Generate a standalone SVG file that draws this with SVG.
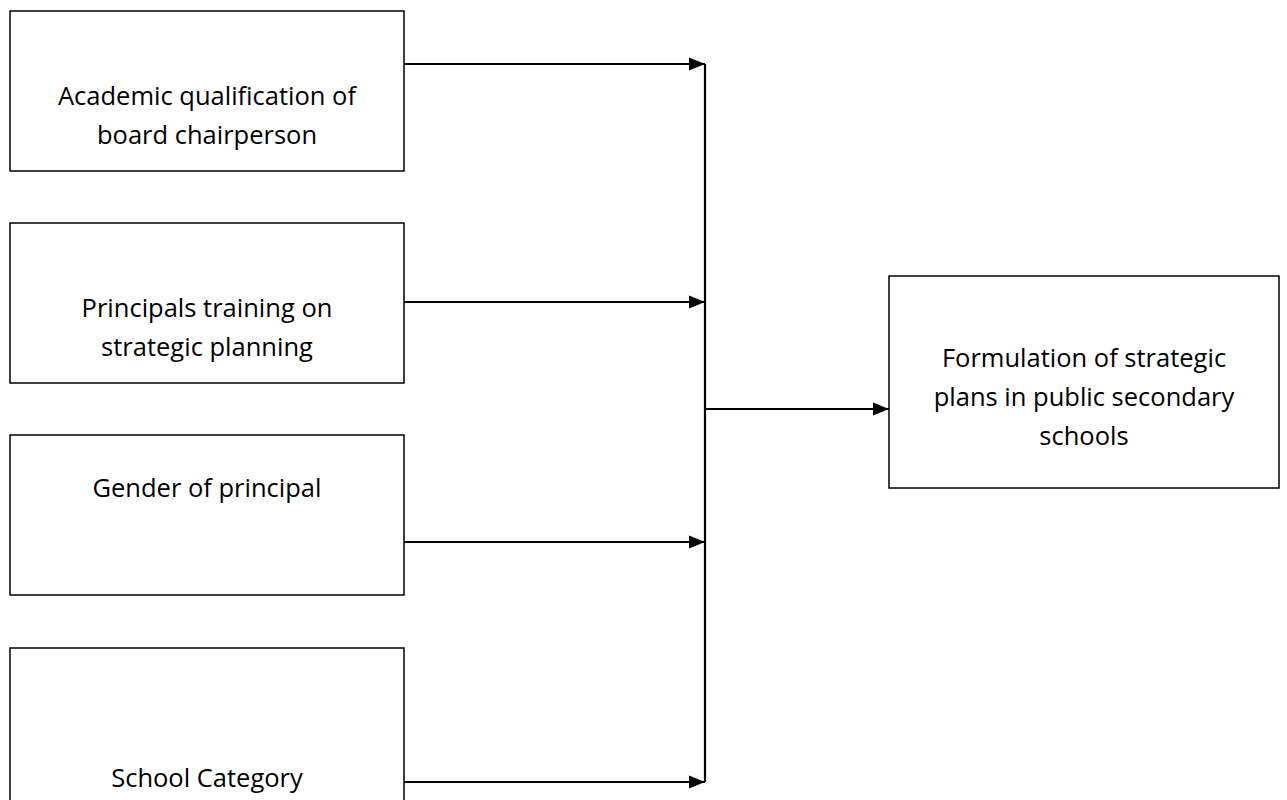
<svg xmlns="http://www.w3.org/2000/svg" width="1287" height="800" viewBox="0 0 1287 800">
<style>
.box{fill:#fff;stroke:#000;stroke-width:1.5}
.lbl{font-family:"Open Sans","Liberation Sans",sans-serif;font-size:25.5px;fill:#000;text-anchor:middle}
.con{stroke:#000;stroke-width:2.2;fill:none}
</style>
<defs>
<marker id="ah" viewBox="0 0 10 10" refX="10" refY="5" markerWidth="7.5" markerHeight="6.2" markerUnits="strokeWidth" orient="auto" preserveAspectRatio="none">
<path d="M0,0 L10,5 L0,10 z" fill="#000"/>
</marker>
</defs>
<rect width="1287" height="800" fill="#fff"/>
<g id="n1"><rect class="box" x="10" y="11" width="394" height="160"/>
<text class="lbl" x="207" y="105">Academic qualification of</text>
<text class="lbl" x="207" y="144">board chairperson</text></g>
<g id="n2"><rect class="box" x="10" y="223" width="394" height="160"/>
<text class="lbl" x="207" y="317">Principals training on</text>
<text class="lbl" x="207" y="356">strategic planning</text></g>
<g id="n3"><rect class="box" x="10" y="435" width="394" height="160"/>
<text class="lbl" x="207" y="497">Gender of principal</text></g>
<g id="n4"><rect class="box" x="10" y="648" width="394" height="160"/>
<text class="lbl" x="207" y="787">School Category</text></g>
<g id="n5"><rect class="box" x="889" y="276" width="390" height="212"/>
<text class="lbl" x="1084" y="367">Formulation of strategic</text>
<text class="lbl" x="1084" y="406">plans in public secondary</text>
<text class="lbl" x="1084" y="445">schools</text></g>
<g id="connectors">
<line class="con" x1="705" y1="64" x2="705" y2="782"/>
<line class="con" x1="404" y1="64" x2="705" y2="64" marker-end="url(#ah)"/>
<line class="con" x1="404" y1="302" x2="705" y2="302" marker-end="url(#ah)"/>
<line class="con" x1="404" y1="542" x2="705" y2="542" marker-end="url(#ah)"/>
<line class="con" x1="404" y1="782" x2="705" y2="782" marker-end="url(#ah)"/>
<line class="con" x1="705" y1="409" x2="889" y2="409" marker-end="url(#ah)"/>
</g>
</svg>
